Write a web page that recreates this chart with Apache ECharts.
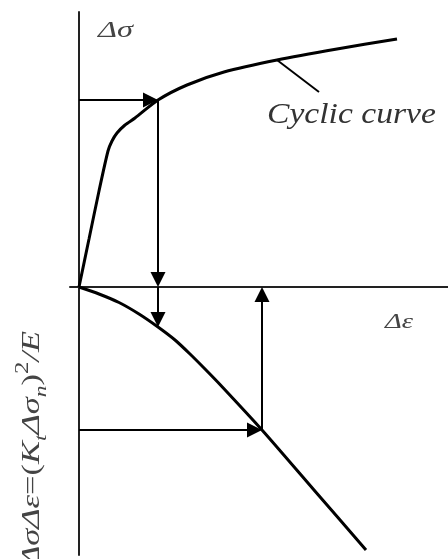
<!DOCTYPE html>
<html><head><meta charset="utf-8">
<script src="https://cdn.jsdelivr.net/npm/echarts@6/dist/echarts.min.js"></script>
<style>html,body{margin:0;padding:0;background:#fff}#c{width:448px;height:559px}</style>
</head><body><div id="c"></div>
<script>
// Axis ranges (arbitrary units)
const xRange = [-0.9, 36.9];
const yRange = [-26.8, 27.5];
// Cyclic stress-strain curve (upper branch)
const cyclicStrain = [0, 1.0, 2.0, 2.9, 3.3, 3.8, 4.6, 5.6, 7.9, 10.8, 14.5, 19.8, 25.8, 31.8];
const cyclicStress = [0, 4.8, 9.6, 13.6, 14.6, 15.4, 16.2, 16.9, 18.7, 20.2, 21.5, 22.7, 23.8, 24.8];
// Neuber hyperbola branch (lower, drawn downward)
const neuberStrain = [0, 2.0, 4.0, 6.0, 7.9, 9.6, 11.1, 12.6, 14.1, 18.3, 23.5, 28.7];
const neuberValue = [0, -0.7, -1.55, -2.7, -4.0, -5.3, -6.7, -8.2, -9.75, -14.3, -20.3, -26.3];
// Arrows: from (startX, startY) to (endX, endY)
const arrowStartX = [0, 7.9, 7.9, 0, 18.3];
const arrowStartY = [18.7, 18.7, 0, -14.3, -14.3];
const arrowEndX = [7.9, 7.9, 7.9, 18.3, 18.3];
const arrowEndY = [18.7, 0, -4.0, -14.3, 0];
// Leader line for the "Cyclic curve" label
const leaderX = [19.8, 24.0];
const leaderY = [22.7, 19.5];
// Labels
const labelStress = 'Δσ';
const labelStrain = 'Δε';
const labelCurve = 'Cyclic curve';

const chart = echarts.init(document.getElementById('c'), null, {renderer: 'canvas'});
const serif = 'Liberation Serif';
const axisCommon = {
  type: 'value', axisTick: {show: false}, axisLabel: {show: false}, splitLine: {show: false},
  axisLine: {show: true, onZero: true, lineStyle: {color: '#222', width: 2}}
};
function txt(fs, italic, color) {
  return {fontSize: fs, fontFamily: serif, fontWeight: 'normal', fontStyle: italic ? 'italic' : 'normal', fill: color || '#444'};
}
chart.setOption({
  animation: false,
  backgroundColor: '#fff',
  grid: {left: 70, right: 0, top: 12, bottom: 4},
  xAxis: Object.assign({}, axisCommon, {min: xRange[0], max: xRange[1]}),
  yAxis: Object.assign({}, axisCommon, {min: yRange[0], max: yRange[1]}),
  series: [
    {
      type: 'line', smooth: 0.25, symbol: 'none',
      data: cyclicStrain.map((x, i) => [x, cyclicStress[i]]),
      lineStyle: {color: '#000', width: 3}
    },
    {
      type: 'line', smooth: 0.25, symbol: 'none',
      data: neuberStrain.map((x, i) => [x, neuberValue[i]]),
      lineStyle: {color: '#000', width: 3}
    },
    {
      type: 'line', symbol: 'none',
      data: leaderX.map((x, i) => [x, leaderY[i]]),
      lineStyle: {color: '#000', width: 2}
    },
    {
      type: 'custom',
      data: arrowStartX.map((x, i) => [x, arrowStartY[i], arrowEndX[i], arrowEndY[i]]),
      encode: {x: [0, 2], y: [1, 3]},
      renderItem: function (params, api) {
        const p0 = api.coord([api.value(0), api.value(1)]);
        const p1 = api.coord([api.value(2), api.value(3)]);
        const dx = p1[0] - p0[0], dy = p1[1] - p0[1];
        const len = Math.hypot(dx, dy);
        const ux = dx / len, uy = dy / len;
        const L = 15, W = 7.5;
        const bx = p1[0] - ux * L, by = p1[1] - uy * L;
        return {
          type: 'group',
          children: [
            {type: 'line', shape: {x1: p0[0], y1: p0[1], x2: bx, y2: by}, style: {stroke: '#000', lineWidth: 2}},
            {type: 'polygon', shape: {points: [[p1[0], p1[1]], [bx - uy * W, by + ux * W], [bx + uy * W, by - ux * W]]}, style: {fill: '#000'}}
          ]
        };
      }
    }
  ],
  graphic: [
    {type: 'text', x: 98, y: 19, scaleX: 1.35,
     style: Object.assign({text: labelStress, align: 'left', verticalAlign: 'top'}, txt(24, true))},
    {type: 'text', x: 385, y: 311, scaleX: 1.3,
     style: Object.assign({text: labelStrain, align: 'left', verticalAlign: 'top'}, txt(22, true))},
    {type: 'text', x: 267, y: 100, scaleX: 1.12,
     style: Object.assign({text: labelCurve, align: 'left', verticalAlign: 'top'}, txt(30, true, '#333'))},
    {type: 'text', x: 32, y: 566, rotation: Math.PI / 2, scaleX: 1.38,
     style: {
       text: '{m|ΔσΔε}{u|=(}{m|K}{s|t}{m|Δσ}{s|n}{u|)}{p|2}{m|/E}',
       align: 'left', verticalAlign: 'middle',
       rich: {
         m: Object.assign({lineHeight: 36, verticalAlign: 'middle'}, txt(25, true)),
         u: Object.assign({lineHeight: 36, verticalAlign: 'middle'}, txt(25, false)),
         s: Object.assign({lineHeight: 36, verticalAlign: 'bottom'}, txt(17, true)),
         p: Object.assign({lineHeight: 36, verticalAlign: 'top'}, txt(18, false))
       }
     }}
  ]
});
</script></body></html>
